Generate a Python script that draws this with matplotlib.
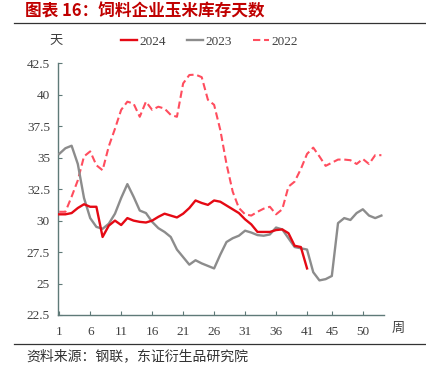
import matplotlib
matplotlib.use('Agg')
import matplotlib.pyplot as plt
import numpy as np

# weekly corn inventory days
y2024 = [30.5, 30.5, 30.6, 31.0, 31.3, 31.1, 31.1, 28.7, 29.6, 30.0,
         29.65, 30.2, 30.0, 29.9, 29.85, 30.0, 30.3, 30.55, 30.4, 30.25,
         30.55, 31.0, 31.6, 31.4, 31.25, 31.6, 31.5, 31.2, 30.9, 30.6,
         30.1, 29.7, 29.1, 29.1, 29.1, 29.25, 29.3, 29.0, 28.0, 27.9, 26.2]
y2023 = [35.3, 35.75, 35.95, 34.5, 31.8, 30.2, 29.5, 29.35, 29.75, 30.55,
         31.8, 32.9, 31.9, 30.8, 30.6, 29.9, 29.4, 29.1, 28.7, 27.7,
         27.1, 26.5, 26.85, 26.6, 26.4, 26.2, 27.3, 28.3, 28.6, 28.8,
         29.2, 29.05, 28.85, 28.8, 28.9, 29.45, 29.3, 28.6, 27.9, 27.8,
         27.7, 25.9, 25.25, 25.35, 25.6, 29.8, 30.2, 30.05, 30.6, 30.9,
         30.4, 30.2, 30.4]
y2022 = [30.7, 30.7, 31.9, 33.2, 35.1, 35.5, 34.4, 34.0, 35.9, 37.3,
         38.8, 39.45, 39.3, 38.25, 39.45, 38.8, 39.05, 38.9, 38.4, 38.25,
         40.9, 41.57, 41.6, 41.4, 39.6, 39.2, 37.2, 34.5, 32.3, 31.0,
         30.5, 30.4, 30.7, 30.95, 31.1, 30.5, 30.9, 32.7, 33.1, 34.1,
         35.3, 35.8, 35.1, 34.35, 34.6, 34.85, 34.85, 34.8, 34.5, 34.9,
         34.5, 35.2, 35.2]
xtick_pos = [0, 5, 10, 15, 20, 25, 30, 35, 40, 44, 49]
xtick_lab = ['1', '6', '11', '16', '21', '26', '31', '36', '41', '45', '50']
yticks = [22.5, 25, 27.5, 30, 32.5, 35, 37.5, 40, 42.5]

cjk = ['Noto Sans CJK SC', 'DejaVu Sans']
serif = 'Liberation Serif'
spine_c = '#5f7a78'
txt_c = '#404040'

fig = plt.figure(figsize=(4.27, 3.82), dpi=100)
ax = fig.add_axes([0.1365, 0.1754, 0.7625, 0.6589])

ax.plot(np.arange(len(y2024)), y2024, color='#e50914', lw=1.7, label='2024', zorder=4)
ax.plot(np.arange(len(y2023)), y2023, color='#8c8c8c', lw=1.7, label='2023', zorder=3)
ax.plot(np.arange(len(y2022)), y2022, color='#ff4d5e', lw=1.5, ls=(0, (3.5, 1.8)),
        label='2022', zorder=2)

ax.set_xlim(-0.15, 52.4)
ax.set_ylim(22.5, 42.5)
ax.set_yticks(yticks)
ax.set_yticklabels(['%g' % v for v in yticks])
ax.set_xticks(xtick_pos)
ax.set_xticklabels(xtick_lab)
for s in ['top', 'right']:
    ax.spines[s].set_visible(False)
for s in ['left', 'bottom']:
    ax.spines[s].set_color(spine_c)
    ax.spines[s].set_linewidth(1.0)
ax.tick_params(direction='in', length=3, color=spine_c, labelsize=9.5, labelcolor=txt_c)
ax.tick_params(axis='y', pad=6)
ax.tick_params(axis='x', pad=8)
for t in ax.get_xticklabels() + ax.get_yticklabels():
    t.set_fontfamily(serif)

leg = ax.legend(ncol=3, frameon=False, loc='center left', bbox_to_anchor=(0.155, 1.087),
                handlelength=1.25, handletextpad=0.2, columnspacing=1.55,
                prop={'family': serif, 'size': 9.5})
for t in leg.get_texts():
    t.set_color(txt_c)

fig.text(49 / 427, 1 - 40 / 382, '天', family=cjk, fontsize=9.5, color=txt_c,
         ha='left', va='center')
fig.text(392 / 427, 1 - 328 / 382, '周', family=cjk, fontsize=9.5, color=txt_c,
         ha='left', va='center')

fig.text(25 / 427, 1 - 11 / 382, '图表 16：饲料企业玉米库存天数', family=cjk, fontsize=12,
         fontweight='bold', color='#c00000', ha='left', va='center')
fig.add_artist(plt.Line2D([14 / 427, 1], [1 - 22.7 / 382] * 2, color='#333333', lw=0.9))
fig.add_artist(plt.Line2D([14 / 427, 1], [1 - 344.3 / 382] * 2, color='#333333', lw=0.9))
fig.text(26 / 427, 1 - 356.5 / 382, '资料来源：钢联，东证衍生品研究院', family=cjk, fontsize=10,
         color='#333333', ha='left', va='center')

fig.savefig('out.png', dpi=100)
